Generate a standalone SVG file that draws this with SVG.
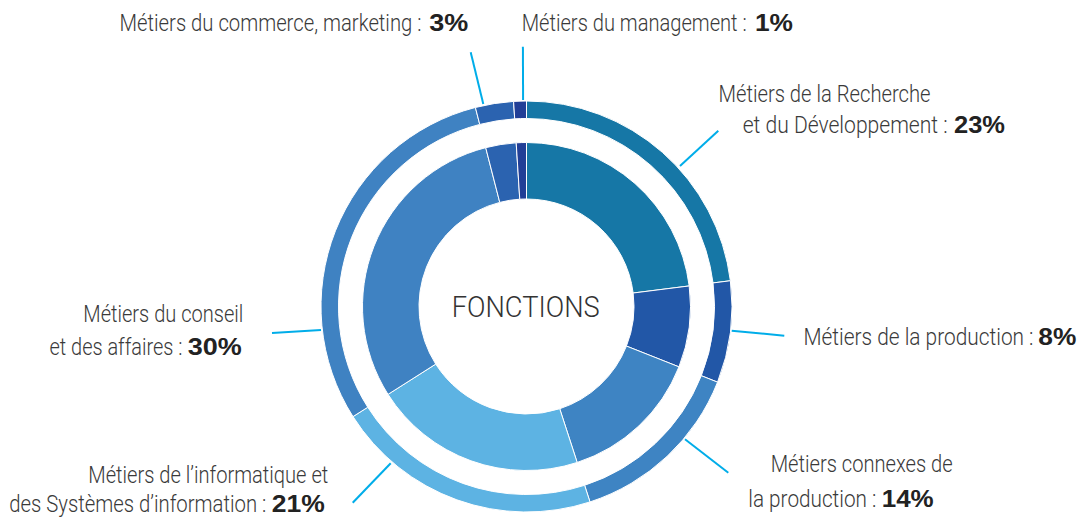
<svg xmlns="http://www.w3.org/2000/svg" width="1086" height="517" viewBox="0 0 1086 517">
<style>
.seg{stroke:#ffffff;stroke-width:1}
.rd{fill:#1677a6}.prod{fill:#2257a7}.cnx{fill:#3e84c3}.info{fill:#5db3e3}.cons{fill:#3f82c2}.com{fill:#2b63b0}.mgt{fill:#223f97}
.lbl{font-family:Roboto,"Liberation Sans",sans-serif;font-weight:300;font-size:24px;fill:#3a3a3a}
.num{font-family:"Liberation Sans",Arial,sans-serif;font-weight:700;font-size:24px;fill:#222222}
.ctr{font-family:Roboto,"Liberation Sans",sans-serif;font-weight:300;font-size:30px;fill:#333333}
.conn line{stroke:#00ade9;stroke-width:2;fill:none}
</style>
<rect width="1086" height="517" fill="#ffffff"/>
<g id="connectors" class="conn">
<line x1="718.3" y1="130.7" x2="680" y2="166"/>
<line x1="731.7" y1="330.7" x2="784.3" y2="335.7"/>
<line x1="685" y1="439.3" x2="728.3" y2="472.7"/>
<line x1="390.7" y1="463.3" x2="352.7" y2="502.7"/>
<line x1="272" y1="333" x2="321" y2="330"/>
<line x1="470.7" y1="52.3" x2="483.3" y2="104"/>
<line x1="522.9" y1="46.7" x2="523.1" y2="100"/>
</g>
<g id="node-rd">
<path class="seg rd" d="M526.5,101 A205.5,205.5 0 0 1 730.38,280.74 L713.02,282.94 A188,188 0 0 0 526.5,118.5 Z"/>
<path class="seg rd" d="M526.5,142.5 A164,164 0 0 1 689.21,285.95 L633.15,293.03 A107.5,107.5 0 0 0 526.5,199 Z"/>
<text class="lbl" x="718.5" y="102.3" textLength="212" lengthAdjust="spacingAndGlyphs">Métiers de la Recherche</text>
<text class="lbl" x="742.7" y="133.3" textLength="205" lengthAdjust="spacingAndGlyphs">et du Développement :</text>
<text class="num" x="954" y="133.3" textLength="51" lengthAdjust="spacingAndGlyphs">23%</text>
</g>
<g id="node-production">
<path class="seg prod" d="M730.38,280.74 A205.5,205.5 0 0 1 717.57,382.15 L701.30,375.71 A188,188 0 0 0 713.02,282.94 Z"/>
<path class="seg prod" d="M689.21,285.95 A164,164 0 0 1 678.98,366.87 L626.45,346.07 A107.5,107.5 0 0 0 633.15,293.03 Z"/>
<text class="lbl" x="803.5" y="345" textLength="230" lengthAdjust="spacingAndGlyphs">Métiers de la production :</text>
<text class="num" x="1038.3" y="345" textLength="38" lengthAdjust="spacingAndGlyphs">8%</text>
</g>
<g id="node-connexes">
<path class="seg cnx" d="M717.57,382.15 A205.5,205.5 0 0 1 590.00,501.94 L584.60,485.30 A188,188 0 0 0 701.30,375.71 Z"/>
<path class="seg cnx" d="M678.98,366.87 A164,164 0 0 1 577.18,462.47 L559.72,408.74 A107.5,107.5 0 0 0 626.45,346.07 Z"/>
<text class="lbl" x="770.7" y="471.7" textLength="182" lengthAdjust="spacingAndGlyphs">Métiers connexes de</text>
<text class="lbl" x="748.3" y="506.7" textLength="128" lengthAdjust="spacingAndGlyphs">la production :</text>
<text class="num" x="881.7" y="506.7" textLength="52" lengthAdjust="spacingAndGlyphs">14%</text>
</g>
<g id="node-informatique">
<path class="seg info" d="M590.00,501.94 A205.5,205.5 0 0 1 352.99,416.61 L367.77,407.24 A188,188 0 0 0 584.60,485.30 Z"/>
<path class="seg info" d="M577.18,462.47 A164,164 0 0 1 388.03,394.38 L435.73,364.10 A107.5,107.5 0 0 0 559.72,408.74 Z"/>
<text class="lbl" x="88.3" y="483.3" textLength="240" lengthAdjust="spacingAndGlyphs">Métiers de l’informatique et</text>
<text class="lbl" x="9.3" y="511.7" textLength="257" lengthAdjust="spacingAndGlyphs">des Systèmes d’information :</text>
<text class="num" x="271.7" y="511.7" textLength="53" lengthAdjust="spacingAndGlyphs">21%</text>
</g>
<g id="node-conseil">
<path class="seg cons" d="M352.99,416.61 A205.5,205.5 0 0 1 475.39,107.46 L479.75,124.41 A188,188 0 0 0 367.77,407.24 Z"/>
<path class="seg cons" d="M388.03,394.38 A164,164 0 0 1 485.71,147.65 L499.77,202.38 A107.5,107.5 0 0 0 435.73,364.10 Z"/>
<text class="lbl" x="83.3" y="321.7" textLength="160" lengthAdjust="spacingAndGlyphs">Métiers du conseil</text>
<text class="lbl" x="49.5" y="355" textLength="133" lengthAdjust="spacingAndGlyphs">et des affaires :</text>
<text class="num" x="187.7" y="355" textLength="54" lengthAdjust="spacingAndGlyphs">30%</text>
</g>
<g id="node-commerce">
<path class="seg com" d="M475.39,107.46 A205.5,205.5 0 0 1 513.60,101.40 L514.70,118.87 A188,188 0 0 0 479.75,124.41 Z"/>
<path class="seg com" d="M485.71,147.65 A164,164 0 0 1 516.20,142.82 L519.75,199.21 A107.5,107.5 0 0 0 499.77,202.38 Z"/>
<text class="lbl" x="119.5" y="31" textLength="302" lengthAdjust="spacingAndGlyphs">Métiers du commerce, marketing :</text>
<text class="num" x="429.3" y="31" textLength="39" lengthAdjust="spacingAndGlyphs">3%</text>
</g>
<g id="node-management">
<path class="seg mgt" d="M513.60,101.40 A205.5,205.5 0 0 1 526.5,101 L526.5,118.5 A188,188 0 0 0 514.70,118.87 Z"/>
<path class="seg mgt" d="M516.20,142.82 A164,164 0 0 1 526.5,142.5 L526.5,199 A107.5,107.5 0 0 0 519.75,199.21 Z"/>
<text class="lbl" x="521.7" y="31" textLength="225" lengthAdjust="spacingAndGlyphs">Métiers du management :</text>
<text class="num" x="755" y="31" textLength="38" lengthAdjust="spacingAndGlyphs">1%</text>
</g>
<g id="node-center">
<text class="ctr" x="451.7" y="316.7" textLength="148" lengthAdjust="spacingAndGlyphs">FONCTIONS</text>
</g>
</svg>
